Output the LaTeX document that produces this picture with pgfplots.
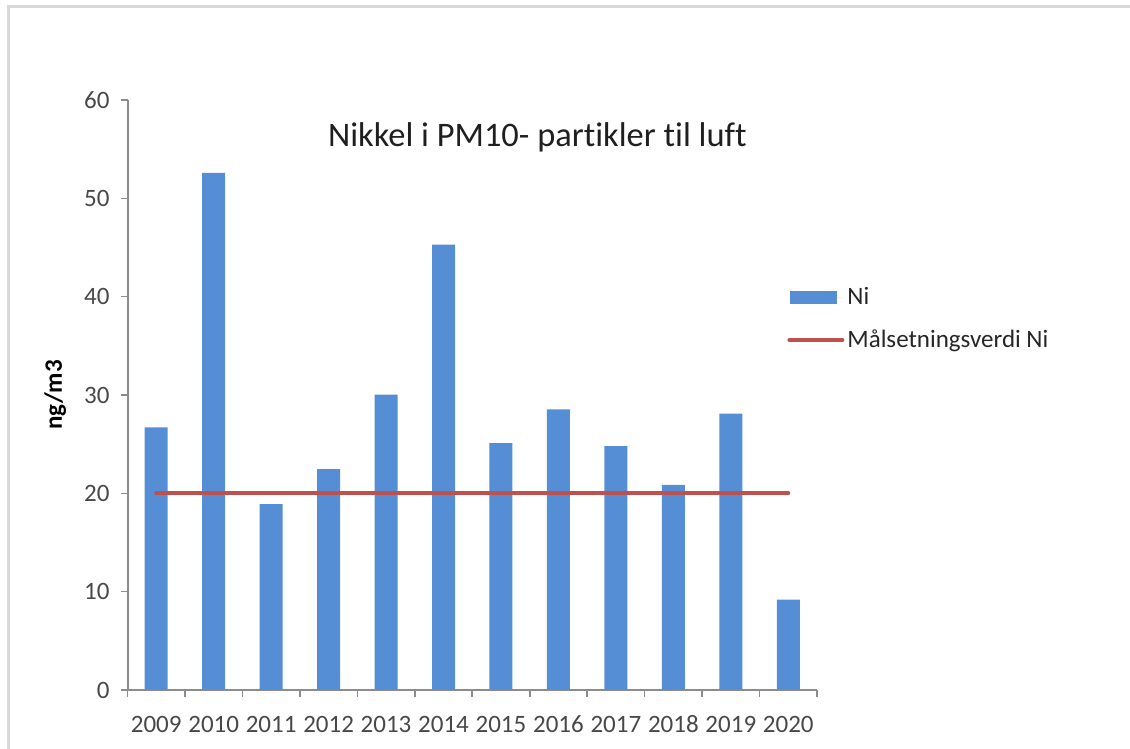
\documentclass[border=0pt]{standalone}
\usepackage{fontspec}
\setmainfont{Carlito}[Ligatures=NoCommon]
\usepackage{pgfplots}
\pgfplotsset{compat=1.18}
\definecolor{barblue}{HTML}{558ED5}
\definecolor{linered}{HTML}{C0504D}
\definecolor{axgray}{HTML}{8C8C8C}
\definecolor{txtgray}{HTML}{484848}
\begin{document}
\begin{tikzpicture}
\useasboundingbox (0,0) rectangle (565pt,374.5pt);
\draw[line width=1.5pt, color=black!15] (4pt,0pt) -- (4pt,371pt) -- (565pt,371pt);
\begin{axis}[
  at={(63.75pt,29.5pt)}, anchor=south west,
  scale only axis, width=344.75pt, height=295pt,
  xmin=-0.5, xmax=11.5, ymin=0, ymax=60,
  axis x line*=bottom, axis y line*=left,
  axis line style={axgray, line width=1pt},
  xtick={0,...,11},
  xticklabels={2009,2010,2011,2012,2013,2014,2015,2016,2017,2018,2019,2020},
  minor xtick={-0.5,0.5,...,11.5},
  ytick={0,10,...,60},
  tick align=outside,
  major tick length=3.5pt, minor tick length=3.5pt,
  tick style={axgray, line width=0.8pt},
  major x tick style={draw=none},
  /pgf/number format/assume math mode=true,
  tick label style={font=\fontsize{12.5}{15}\selectfont, text=txtgray},
  xticklabel style={yshift=-5.5pt, text height=8.5pt, text depth=0pt},
  yticklabel style={xshift=-2pt},
  ylabel={\textbf{ng/m3}},
  ylabel style={at={(axis description cs:-0.105,0.5)}, anchor=center, font=\fontsize{12.5}{15}\selectfont, text=black},
  title={Nikkel i PM10- partikler til luft},
  title style={at={(axis description cs:0.5945,0.919)}, anchor=base, yshift=-5.5pt, font=\fontsize{17.2}{20}\selectfont, text=black!88},
  legend style={at={(axis description cs:0.9565,0.629)}, anchor=west, draw=none, fill=none,
    font=\fontsize{12.5}{15}\selectfont, text=black!85, row sep=8pt, inner sep=0pt,
    nodes={inner sep=1.5pt}},
  legend cell align=left,
]
\addplot[ybar, bar width=0.4, fill=barblue, draw=none,
  legend image code/.code={\path (0pt,0pt) -- (26.5pt,0pt); \fill[barblue] (0.5pt,-3.25pt) rectangle (24pt,3.25pt);}]
  coordinates {(0,26.7) (1,52.6) (2,18.9) (3,22.45) (4,30.05) (5,45.3) (6,25.1) (7,28.55) (8,24.8) (9,20.85) (10,28.1) (11,9.2)};
\addlegendentry{Ni}
\addplot[sharp plot, no marks, linered, line width=2pt, line cap=round,
  legend image code/.code={\draw[linered, line width=2pt, line cap=round] (0pt,0pt) -- (26.5pt,0pt);}]
  coordinates {(0,20) (11,20)};
\addlegendentry{Målsetningsverdi Ni}
\end{axis}
\end{tikzpicture}
\end{document}
